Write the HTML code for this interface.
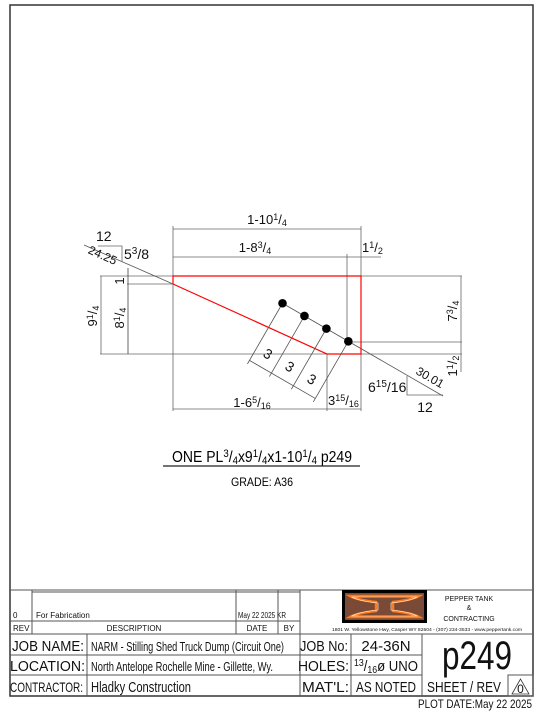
<!DOCTYPE html>
<html><head><meta charset="utf-8"><style>
html,body{margin:0;padding:0;background:#fff;}
svg{display:block;font-family:"Liberation Sans",sans-serif;}
</style></head><body>
<svg id="dwg" width="544" height="711" viewBox="0 0 544 711" xmlns="http://www.w3.org/2000/svg">
<rect x="10" y="5" width="523" height="691" fill="none" stroke="#333" stroke-width="1.5"/>
<g id="geom" stroke="#666" stroke-width="0.8" fill="none">
  <line x1="173" y1="226" x2="173" y2="411"/>
  <line x1="361" y1="226" x2="361" y2="411"/>
  <line x1="173" y1="229" x2="361" y2="229"/>
  <line x1="173" y1="257" x2="381" y2="257"/>
  <line x1="347" y1="254" x2="347" y2="342"/>
  <line x1="173" y1="409" x2="361" y2="409"/>
  <line x1="327" y1="354" x2="327" y2="411"/>
  <line x1="100" y1="276" x2="173" y2="276"/>
  <line x1="100" y1="354" x2="327" y2="354"/>
  <line x1="127" y1="284" x2="173" y2="284"/>
  <line x1="101" y1="276" x2="101" y2="354"/>
  <line x1="128" y1="268" x2="128" y2="354" stroke="#444"/>
  <line x1="361" y1="276" x2="462" y2="276"/>
  <line x1="352" y1="342" x2="462" y2="342"/>
  <line x1="361" y1="354" x2="462" y2="354"/>
  <line x1="461" y1="276" x2="461" y2="372"/>
  <line x1="84" y1="245" x2="173" y2="284" stroke="#555"/>
  <line x1="282" y1="303" x2="443" y2="396" stroke="#555"/>
  <polyline points="98,246 122,246 122,262"/>
  <polyline points="407,376 407,395 443,395"/>
</g>
<polyline points="173,284 173,276 361,276 361,354 327,354 173,284" fill="none" stroke="#ff0000" stroke-width="1.2"/>
<g id="holes"></g>
<g font-size="13" fill="#111">
  <text x="267" y="224" text-anchor="middle">1-10<tspan font-size="9" dy="-4">1</tspan><tspan dy="4">/</tspan><tspan font-size="9" dy="2">4</tspan></text>
  <text x="255" y="252" text-anchor="middle">1-8<tspan font-size="9" dy="-4">3</tspan><tspan dy="4">/</tspan><tspan font-size="9" dy="2">4</tspan></text>
  <text x="362" y="252">1<tspan font-size="9" dy="-4">1</tspan><tspan dy="4">/</tspan><tspan font-size="9" dy="2">2</tspan></text>
  <text x="96" y="241" font-size="14">12</text>
  <text x="124" y="259" font-size="14">5<tspan font-size="10" dy="-5">3</tspan><tspan dy="5">/8</tspan></text>
  <text transform="translate(101,259) rotate(24)" text-anchor="middle" font-size="12">24.25</text>
  <text transform="translate(124,281) rotate(-90)" text-anchor="middle">1</text>
  <text transform="translate(97,316) rotate(-90)" text-anchor="middle">9<tspan font-size="9" dy="-4">1</tspan><tspan dy="4">/</tspan><tspan font-size="9" dy="2">4</tspan></text>
  <text transform="translate(124,318) rotate(-90)" text-anchor="middle">8<tspan font-size="9" dy="-4">1</tspan><tspan dy="4">/</tspan><tspan font-size="9" dy="2">4</tspan></text>
  <text transform="translate(457,311) rotate(-90)" text-anchor="middle">7<tspan font-size="9" dy="-4">3</tspan><tspan dy="4">/</tspan><tspan font-size="9" dy="2">4</tspan></text>
  <text transform="translate(457,366) rotate(-90)" text-anchor="middle">1<tspan font-size="9" dy="-4">1</tspan><tspan dy="4">/</tspan><tspan font-size="9" dy="2">2</tspan></text>
  <text x="368" y="392" font-size="14">6<tspan font-size="10" dy="-5">15</tspan><tspan dy="5">/16</tspan></text>
  <text x="425" y="412" font-size="14" text-anchor="middle">12</text>
  <text transform="translate(428,381) rotate(30)" text-anchor="middle" font-size="12">30.01</text>
  <text x="252" y="407" text-anchor="middle">1-6<tspan font-size="9" dy="-4">5</tspan><tspan dy="4">/</tspan><tspan font-size="9" dy="2">16</tspan></text>
  <text x="328" y="405">3<tspan font-size="9" dy="-4">15</tspan><tspan dy="4">/</tspan><tspan font-size="9" dy="2">16</tspan></text>
</g>
<g>
  <text x="262" y="462" font-size="16" text-anchor="middle" textLength="180" lengthAdjust="spacingAndGlyphs">ONE PL<tspan font-size="11" dy="-5">3</tspan><tspan dy="5">/</tspan><tspan font-size="11" dy="2">4</tspan><tspan dy="-2">x9</tspan><tspan font-size="11" dy="-5">1</tspan><tspan dy="5">/</tspan><tspan font-size="11" dy="2">4</tspan><tspan dy="-2">x1-10</tspan><tspan font-size="11" dy="-5">1</tspan><tspan dy="5">/</tspan><tspan font-size="11" dy="2">4</tspan><tspan dy="-2"> p249</tspan></text>
  <line x1="163" y1="466" x2="360" y2="466" stroke="#222" stroke-width="1.3"/>
  <text x="262" y="486" font-size="12" text-anchor="middle" textLength="62" lengthAdjust="spacingAndGlyphs">GRADE: A36</text>
</g>
<g stroke="#555" stroke-width="1" fill="none">
  <line x1="10" y1="590" x2="533" y2="590"/>
  <line x1="32" y1="592" x2="300" y2="592"/>
  <line x1="10" y1="621" x2="300" y2="621"/>
  <line x1="10" y1="634" x2="533" y2="634"/>
  <line x1="32" y1="590" x2="32" y2="634"/>
  <line x1="236" y1="590" x2="236" y2="634"/>
  <line x1="278" y1="590" x2="278" y2="634"/>
  <line x1="300" y1="590" x2="300" y2="696"/>
  <line x1="10" y1="655" x2="422" y2="655"/>
  <line x1="10" y1="675" x2="422" y2="675"/>
  <line x1="87" y1="634" x2="87" y2="696"/>
  <line x1="351" y1="634" x2="351" y2="696"/>
  <line x1="422" y1="634" x2="422" y2="696"/>
  <rect x="508" y="675" width="25" height="21"/>
</g>
<g fill="#111">
  <text x="13" y="618" font-size="8">0</text>
  <text x="36" y="618" font-size="8">For Fabrication</text>
  <text x="238" y="618" font-size="8" textLength="48" lengthAdjust="spacingAndGlyphs">May 22 2025 KR</text>
  <text x="13" y="631" font-size="8">REV</text>
  <text x="134" y="631" font-size="8" text-anchor="middle">DESCRIPTION</text>
  <text x="257" y="631" font-size="8" text-anchor="middle">DATE</text>
  <text x="289" y="631" font-size="8" text-anchor="middle">BY</text>
  <text x="12" y="651" font-size="15" textLength="72" lengthAdjust="spacingAndGlyphs">JOB NAME:</text>
  <text x="91" y="651" font-size="13" textLength="193" lengthAdjust="spacingAndGlyphs">NARM - Stilling Shed Truck Dump (Circuit One)</text>
  <text x="10" y="671" font-size="15" textLength="75" lengthAdjust="spacingAndGlyphs">LOCATION:</text>
  <text x="91" y="671" font-size="13" textLength="182" lengthAdjust="spacingAndGlyphs">North Antelope Rochelle Mine - Gillette, Wy.</text>
  <text x="10" y="692" font-size="14" textLength="73" lengthAdjust="spacingAndGlyphs">CONTRACTOR:</text>
  <text x="91" y="692" font-size="15" textLength="100" lengthAdjust="spacingAndGlyphs">Hladky Construction</text>
  <text x="300" y="651" font-size="15" textLength="48" lengthAdjust="spacingAndGlyphs">JOB No:</text>
  <text x="386" y="651" font-size="15" text-anchor="middle">24-36N</text>
  <text x="298" y="671" font-size="15" textLength="51" lengthAdjust="spacingAndGlyphs">HOLES:</text>
  <text x="354" y="671" font-size="15" textLength="64" lengthAdjust="spacingAndGlyphs"><tspan font-size="10" dy="-5">13</tspan><tspan dy="5">/</tspan><tspan font-size="10" dy="2">16</tspan><tspan dy="-2">ø UNO</tspan></text>
  <text x="302" y="692" font-size="15" textLength="47" lengthAdjust="spacingAndGlyphs">MAT'L:</text>
  <text x="386" y="692" font-size="15" text-anchor="middle" textLength="60" lengthAdjust="spacingAndGlyphs">AS NOTED</text>
  <text x="477" y="669" font-size="40" text-anchor="middle" textLength="70" lengthAdjust="spacingAndGlyphs">p249</text>
  <text x="464" y="692" font-size="15" text-anchor="middle" textLength="74" lengthAdjust="spacingAndGlyphs">SHEET / REV</text>
  <polygon points="520.5,679 512,694 529,694" fill="none" stroke="#333" stroke-width="0.8"/>
  <text x="520.5" y="693" font-size="12" text-anchor="middle">0</text>
  <text x="532" y="708" font-size="12" text-anchor="end" textLength="114" lengthAdjust="spacingAndGlyphs">PLOT DATE:May 22 2025</text>
  <text x="469" y="601" font-size="7" text-anchor="middle">PEPPER TANK</text>
  <text x="469" y="610" font-size="7" text-anchor="middle">&amp;</text>
  <text x="469" y="621" font-size="7" text-anchor="middle">CONTRACTING</text>
  <text x="427" y="631" font-size="4.5" text-anchor="middle" textLength="190" lengthAdjust="spacingAndGlyphs">1801 W. Yellowstone Hwy, Casper WY 82604  -  (307) 234-3533  -  www.peppertank.com</text>
</g>
<g>
  <rect x="342" y="590" width="85" height="33" fill="#000"/>
  <rect x="345" y="593" width="79" height="27" fill="#7a4a36"/>
  <path d="M350,596 H419 Q412,600 393,602 V611 Q412,613 419,617 H350 Q357,613 376,611 V602 Q357,600 350,596 Z" fill="none" stroke="#ff7a1a" stroke-width="2.5"/>
  <path d="M352,597 H417 Q410,601 391,603 V610 Q410,612 417,616 H352 Q359,612 378,610 V603 Q359,601 352,597 Z" fill="none" stroke="#fff" stroke-width="0.6"/>
</g>
<script>
// Plate data in inches (origin = plate bottom-left)
var holeAlongIn = [0, 3, 6, 9];
var lastHoleXIn = [20.75];
var lastHoleYIn = [1.5];
var gaugeLabels = ["3", "3", "3"];
var slopeRise = [6.9375];
var slopeRun = [12];
var ns = "http://www.w3.org/2000/svg";
var PX = 8.45, OX = 173, OY = 354;
function sx(v){ return OX + v * PX; }
function sy(v){ return OY - v * PX; }
var g = document.getElementById('holes');
var len = Math.hypot(slopeRise[0], slopeRun[0]);
var ux = slopeRun[0] / len, uy = slopeRise[0] / len;
var ang = Math.atan2(uy, ux) * 180 / Math.PI;
var ext = 70, off = 66;
var pts = [];
holeAlongIn.forEach(function(d){
  var cx = sx(lastHoleXIn[0]) - d * PX * ux;
  var cy = sy(lastHoleYIn[0]) - d * PX * uy;
  pts.push([cx, cy]);
});
pts.forEach(function(p){
  var l = document.createElementNS(ns, 'line');
  l.setAttribute('x1', p[0]); l.setAttribute('y1', p[1]);
  l.setAttribute('x2', p[0] - uy * ext); l.setAttribute('y2', p[1] + ux * ext);
  l.setAttribute('stroke', '#555'); l.setAttribute('stroke-width', '0.8');
  
  
  g.appendChild(l);
});
var dl = document.createElementNS(ns, 'line');
dl.setAttribute('x1', pts[0][0] - uy * off); dl.setAttribute('y1', pts[0][1] + ux * off);
dl.setAttribute('x2', pts[pts.length-1][0] - uy * off); dl.setAttribute('y2', pts[pts.length-1][1] + ux * off);
dl.setAttribute('stroke', '#555'); dl.setAttribute('stroke-width', '0.8');


g.appendChild(dl);
gaugeLabels.forEach(function(t, i){
  var mx = (pts[i][0] + pts[i+1][0]) / 2 - uy * (off - 10);
  var my = (pts[i][1] + pts[i+1][1]) / 2 + ux * (off - 10);
  var tx = document.createElementNS(ns, 'text');
  tx.setAttribute('transform', 'translate(' + mx + ',' + my + ') rotate(' + ang + ')');
  tx.setAttribute('text-anchor', 'middle');
  tx.setAttribute('font-size', '14');
  tx.setAttribute('fill', '#111');
  tx.textContent = t;
  
  
  g.appendChild(tx);
});
pts.forEach(function(p){
  var c = document.createElementNS(ns, 'circle');
  c.setAttribute('cx', p[0]); c.setAttribute('cy', p[1]); c.setAttribute('r', '4.3');
  c.setAttribute('fill', '#000');
  
  
  g.appendChild(c);
});
</script>
</svg>
</body></html>
